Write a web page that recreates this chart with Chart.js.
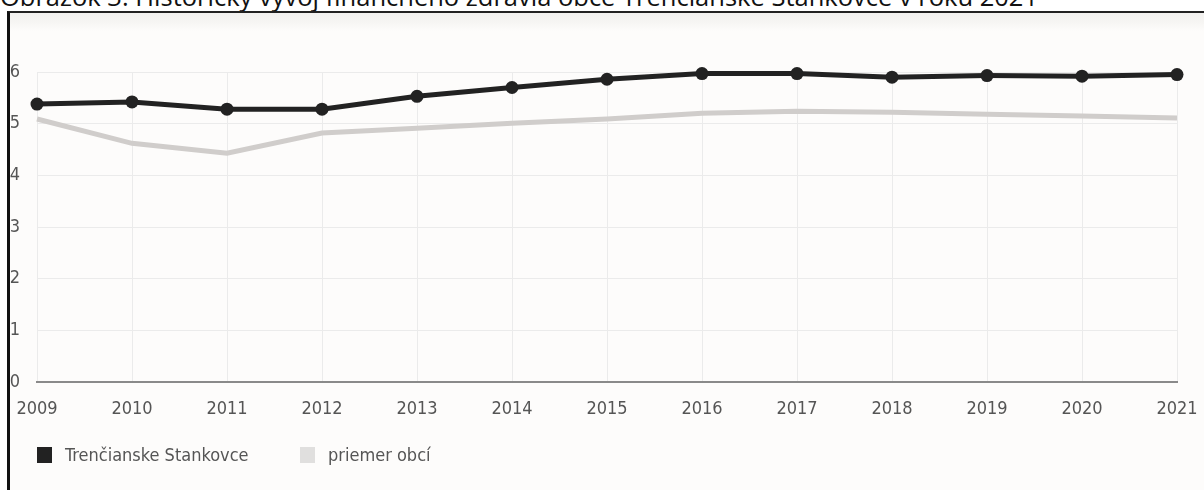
<!DOCTYPE html>
<html>
<head>
<meta charset="utf-8">
<script src="https://cdn.jsdelivr.net/npm/chart.js@4.4.1/dist/chart.umd.min.js"></script>
<style>
  html, body { margin: 0; padding: 0; background: #fff; width: 1204px; height: 490px; overflow: hidden; }
  #title {
    position: absolute; left: 0; top: -21px; white-space: nowrap;
    font-family: "Open Sans", "Liberation Sans", sans-serif; font-size: 25.5px; color: #111;
  }
  #frame {
    position: absolute; left: 7px; top: 11px; width: 1200px; height: 490px;
    border-left: 3px solid #111; border-top: 2px solid #222;
    background: linear-gradient(#f2f1ef 0px, #f7f6f4 10px, #fdfcfb 18px, #fdfcfb 100%);
  }
  #wrap { position: absolute; left: 0; top: 0; width: 1204px; height: 490px; }
</style>
</head>
<body>
<div id="title">Obrázok 3: Historický vývoj finančného zdravia obce Trenčianske Stankovce v roku 2021</div>
<div id="frame"></div>
<div id="wrap"><canvas id="chart"></canvas></div>
<script>
var years = ['2009', '2010', '2011', '2012', '2013', '2014', '2015', '2016', '2017', '2018', '2019', '2020', '2021'];
var obec = [5.38, 5.42, 5.28, 5.28, 5.53, 5.70, 5.86, 5.97, 5.97, 5.90, 5.93, 5.92, 5.95];
var priemer = [5.09, 4.62, 4.43, 4.82, 4.91, 5.01, 5.09, 5.20, 5.24, 5.22, 5.18, 5.15, 5.11];
var seriesNames = ['Trenčianske Stankovce', 'priemer obcí'];

var fontFam = '"Liberation Sans Narrow", "DejaVu Sans Condensed", sans-serif';

// legend drawn under the axis, like the original
var legendPlugin = {
  id: 'bottomLegend',
  afterDraw: function(chart) {
    var ctx = chart.ctx;
    var xs = [37, 300];
    ctx.save();
    ctx.font = '18px ' + fontFam;
    ctx.textBaseline = 'middle';
    chart.data.datasets.forEach(function(ds, i) {
      ctx.fillStyle = ds.legendColor;
      ctx.fillRect(xs[i], 447, 15, 16);
      ctx.fillStyle = '#555';
      ctx.fillText(ds.label, xs[i] + 28, 456);
    });
    ctx.restore();
  }
};

var ctx = document.getElementById('chart').getContext('2d');
var chart = new Chart(ctx, {
  type: 'line',
  data: {
    labels: years,
    datasets: [{
      label: seriesNames[0],
      data: obec,
      borderColor: '#222',
      backgroundColor: '#222',
      legendColor: '#222',
      borderWidth: 5,
      pointRadius: 6.5,
      pointBorderWidth: 0,
      tension: 0,
      clip: false
    }, {
      label: seriesNames[1],
      data: priemer,
      borderColor: '#d0cdcb',
      backgroundColor: '#d0cdcb',
      legendColor: '#e0dfde',
      borderWidth: 5,
      pointRadius: 0,
      tension: 0,
      clip: false
    }]
  },
  options: {
    responsive: true,
    maintainAspectRatio: false,
    animation: false,
    layout: { padding: { top: 72, right: 27, bottom: 66, left: 0 } },
    plugins: { legend: { display: false }, tooltip: { enabled: false } },
    scales: {
      x: {
        offset: false,
        grid: { color: '#ebebeb', lineWidth: 1, drawTicks: false },
        border: { color: '#8a8a8a', width: 2 },
        ticks: { color: '#555', font: { family: fontFam, size: 18 }, padding: 17, maxRotation: 0, autoSkip: false },
        afterFit: function(s) { s.height = 42; s.paddingRight = 0; s.paddingLeft = 0; }
      },
      y: {
        min: 0, max: 6,
        grid: { color: '#ebebeb', lineWidth: 1, drawTicks: false },
        border: { display: false },
        ticks: { stepSize: 1, color: '#555', font: { family: fontFam, size: 18 }, padding: 17 },
        afterFit: function(s) { s.width = 37; }
      }
    }
  },
  plugins: [legendPlugin]
});
</script>
</body>
</html>
